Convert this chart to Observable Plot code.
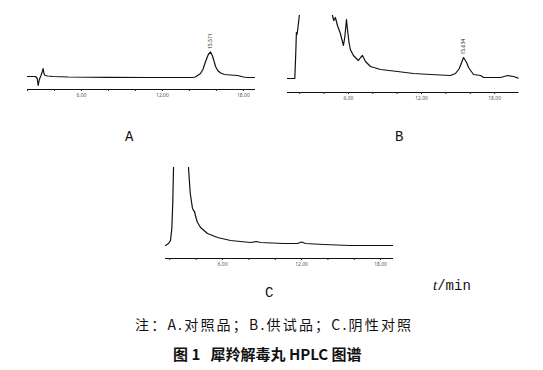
<!DOCTYPE html>
<html>
<head>
<meta charset="utf-8">
<script src="https://cdn.jsdelivr.net/npm/d3@7"></script>
<script src="https://cdn.jsdelivr.net/npm/@observablehq/plot@0.6"></script>
<style>
  body { margin: 0; background: #fff; }
  #wrap { position: relative; width: 543px; height: 370px; background: #fff; overflow: hidden; }
  #wrap > div.p { position: absolute; }
  .lbl { position: absolute; font-family: "Liberation Mono", "DejaVu Sans Mono", monospace; font-size: 14px; color: #111; line-height: 1; white-space: nowrap; }
  .cn { position: absolute; font-family: "Noto Sans CJK SC", sans-serif; color: #111; line-height: 1; white-space: nowrap; }
</style>
</head>
<body>
<div id="wrap">
  <div class="p" id="pa" style="left:0px;top:0px"></div>
  <div class="p" id="pb" style="left:270px;top:0px"></div>
  <div class="p" id="pc" style="left:150px;top:150px"></div>
  <div class="lbl" style="left:125px;top:130px">A</div>
  <div class="lbl" style="left:395px;top:130px">B</div>
  <div class="lbl" style="left:265px;top:286px">C</div>
  <div class="lbl" style="left:433px;top:278px"><i style="font-family:'Liberation Serif',serif;font-size:15px">t</i>/min</div>
  <div class="cn" style="left:135px;top:317px;font-size:14px;letter-spacing:2.2px">注：A.对照品；B.供试品；C.阴性对照</div>
  <div class="cn" style="left:173px;top:346px;font-size:15px;font-weight:bold">图 1&nbsp;&nbsp;&nbsp;犀羚解毒丸 HPLC 图谱</div>
</div>
<script>
// Chromatogram A (reference standard)
const timeA = [2.0, 2.6, 2.72, 2.79, 2.88, 3.0, 3.1, 3.16, 3.22, 3.3, 3.5, 3.9, 5, 8, 11, 14.2, 14.45, 14.82, 15.0, 15.2, 15.4, 15.57, 15.7, 15.79, 15.94, 16.1, 16.31, 16.6, 17.05, 17.57, 18.01, 18.3, 18.9];
const signalA = [13, 13, 11, 4, 10, 14, 18, 21, 16, 14, 13.5, 13, 12.5, 12.2, 12, 12, 12.5, 16, 20, 28, 35, 37.5, 34, 30, 23, 19, 16.5, 15, 14.5, 14, 12.5, 12, 12];
const peakA = [{time: 15.571, label: "15.571"}];

// Chromatogram B (test sample)
const timeB = [1.0, 1.6, 1.68, 1.73, 1.78, 1.85, 1.97, 2.2, 4.5, 4.69, 4.8, 4.93, 5.1, 5.34, 5.59, 5.7, 5.84, 5.95, 6.05, 6.16, 6.41, 6.82, 7.0, 7.15, 7.4, 7.81, 8.63, 10.03, 11.34, 12.74, 14.38, 14.79, 15.1, 15.45, 15.7, 15.86, 16.03, 16.27, 16.85, 17.1, 18.24, 18.49, 19.07, 19.56, 20.0];
const signalB = [14, 14, 40, 60, 58, 64, 77, 160, 160, 77, 72, 75, 67, 59, 47, 55, 73, 60, 50, 43, 37, 32, 35, 37, 31, 26, 23, 21, 19, 18, 17, 19, 24, 35, 30, 25, 22, 18, 17, 15, 15, 15, 17, 16, 14];
const peakB = [{time: 15.45, label: "15.634"}];

// Chromatogram C (negative control)
const timeC = [1.67, 1.9, 2.05, 2.15, 2.22, 2.28, 2.4, 3.3, 3.42, 3.55, 3.72, 3.8, 3.87, 4.0, 4.1, 4.33, 4.86, 5.62, 6.61, 8.13, 8.58, 8.89, 10.63, 11.69, 12.0, 12.3, 13.67, 15.72, 18.98];
const signalC = [13, 15, 18, 30, 55, 91, 200, 200, 90, 65, 50, 48, 47, 40, 36, 31, 25, 21, 18, 16, 17, 16, 15, 15, 16.5, 15, 14, 13, 13];

const tickTimes = [2, 4, 6, 8, 10, 12, 14, 16, 18];
const labelTimes = [6, 12, 18];

function chrom(times, signal, peaks, o) {
  const data = times.map((t, i) => ({time: t, signal: signal[i]}));
  const peakData = peaks.map(p => {
    let best = data[0];
    for (const d of data) if (Math.abs(d.time - p.time) < Math.abs(best.time - p.time)) best = d;
    return {time: p.time, signal: d3.max(data.filter(d => Math.abs(d.time - p.time) < 0.4), d => d.signal), label: p.label};
  });
  return Plot.plot({
    width: o.width, height: o.height,
    marginLeft: o.ml, marginRight: o.mr, marginTop: o.mt, marginBottom: o.mb,
    x: {domain: o.xd, label: null},
    y: {domain: o.yd, axis: null},
    style: {background: "transparent", overflow: "visible"},
    marks: [
      Plot.ruleY([0], {stroke: "#111", strokeWidth: 1}),
      Plot.axisX({ticks: tickTimes.filter(t => t >= o.xd[0] && t <= o.xd[1]), tickSize: 2, tickPadding: 2, fontSize: 5, fill: "#555", stroke: "#222",
        tickFormat: d => labelTimes.includes(d) ? d.toFixed(2) : "", label: null}),
      Plot.line(data, {x: "time", y: "signal", stroke: "#111", strokeWidth: 1.2, clip: true}),
      Plot.text(peakData, {x: "time", y: "signal", text: "label", rotate: -90, textAnchor: "start", dy: -3, fontSize: 5, fill: "#222"})
    ]
  });
}

document.getElementById("pa").append(chrom(timeA, signalA, peakA, {width: 270, height: 105, ml: 27, mr: 15, mt: 10, mb: 16, xd: [2.0, 18.9], yd: [0, 79]}));
document.getElementById("pb").append(chrom(timeB, signalB, peakB, {width: 273, height: 105, ml: 17, mr: 24.5, mt: 15, mb: 13, xd: [1.0, 20.0], yd: [0, 77]}));
document.getElementById("pc").append(chrom(timeC, signalC, [], {width: 260, height: 120, ml: 15, mr: 17, mt: 17, mb: 12, xd: [1.67, 18.98], yd: [0, 91]}));
</script>
</body>
</html>
